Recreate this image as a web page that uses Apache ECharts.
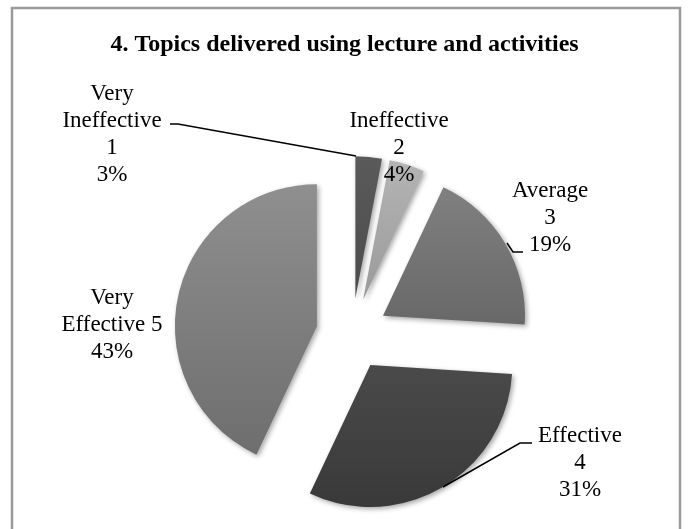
<!DOCTYPE html>
<html>
<head>
<meta charset="utf-8">
<script src="https://cdn.jsdelivr.net/npm/echarts@6/dist/echarts.min.js"></script>
<style>
html,body{margin:0;padding:0;background:#fff;}
#chart{width:689px;height:529px;}
</style>
</head>
<body>
<div id="chart"></div>
<script>
// ---- data ----
var titleText = '4. Topics delivered using lecture and activities';
var categories = ['Very Ineffective', 'Ineffective', 'Average', 'Effective', 'Very Effective'];
var codes = [1, 2, 3, 4, 5];
var values = [3, 4, 19, 31, 43];
// label text lines (as printed on the chart)
var labelTexts = ['Very\nIneffective\n1', 'Ineffective\n2', 'Average\n3', 'Effective\n4', 'Very\nEffective 5'];

// ---- styling / layout (not data) ----
var topColors = ['#5a5a5a', '#b4b4b4', '#808080', '#4a4a4a', '#8f8f8f'];
var bottomColors = ['#4c4c4c', '#9a9a9a', '#686868', '#393939', '#6e6e6e'];
var labelPos = [[112, 134], [399, 148], [550, 218], [580, 463], [112, 325]];
var leaderLines = [
  [[356, 156], [178, 124], [170, 124]],
  null,
  [[507, 243], [513, 252], [523, 252]],
  [[443, 487], [520, 443], [532, 443]],
  null
];

var chart = echarts.init(document.getElementById('chart'), null, {renderer: 'canvas'});

var seriesData = values.map(function (v, i) {
  return {
    name: categories[i],
    value: v,
    selected: true,
    itemStyle: {
      color: new echarts.graphic.LinearGradient(0, 0, 0, 1, [
        {offset: 0, color: topColors[i]},
        {offset: 1, color: bottomColors[i]}
      ])
    }
  };
});

var total = values.reduce(function (a, b) { return a + b; }, 0);

var graphics = [{
  type: 'rect',
  shape: {x: 12, y: 8, width: 668, height: 540},
  style: {fill: 'none', stroke: '#9a9a9a', lineWidth: 2.5},
  silent: true
}];
values.forEach(function (v, i) {
  var pct = Math.round(v / total * 100);
  graphics.push({
    type: 'text',
    x: labelPos[i][0],
    y: labelPos[i][1],
    z: 10,
    silent: true,
    style: {
      text: labelTexts[i] + '\n' + pct + '%',
      fontFamily: 'Liberation Serif',
      fontSize: 23,
      lineHeight: 27,
      fill: '#000',
      align: 'center',
      verticalAlign: 'middle'
    }
  });
  if (leaderLines[i]) {
    graphics.push({
      type: 'polyline',
      z: 10,
      silent: true,
      shape: {points: leaderLines[i]},
      style: {stroke: '#000', lineWidth: 1.5, fill: null}
    });
  }
});

var option = {
  backgroundColor: '#ffffff',
  animation: false,
  title: {
    text: titleText,
    left: 'center',
    top: 28,
    textStyle: {
      fontFamily: 'Liberation Serif',
      fontWeight: 'bold',
      fontSize: 24,
      color: '#000'
    }
  },
  graphic: graphics,
  series: [{
    type: 'pie',
    center: [352, 334],
    radius: [0, 142],
    startAngle: 90,
    clockwise: true,
    selectedMode: 'multiple',
    selectedOffset: 36,
    emphasis: {disabled: true, scale: false},
    select: {itemStyle: {}},
    itemStyle: {
      shadowBlur: 5,
      shadowOffsetX: 2,
      shadowOffsetY: 2,
      shadowColor: 'rgba(0,0,0,0.35)',
      borderWidth: 0
    },
    label: {show: false},
    labelLine: {show: false},
    data: seriesData
  }]
};
chart.setOption(option);
</script>
</body>
</html>
